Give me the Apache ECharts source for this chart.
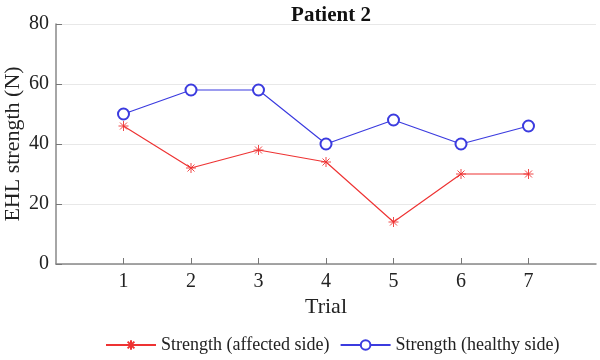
<!DOCTYPE html>
<html>
<head>
    <meta charset="utf-8" />
    <title>Patient 2</title>
    <script src="https://cdn.jsdelivr.net/npm/echarts@6/dist/echarts.min.js"></script>
    <style>
        body { margin: 0; background: #fff; }
        #main { width: 600px; height: 360px; }
    </style>
</head>
<body>
    <div id="main"></div>
    <script type="text/javascript">
        // values
        const trials = [1, 2, 3, 4, 5, 6, 7];
        const affectedSide = [46, 32, 38, 34, 14, 30, 30];
        const healthySide = [50, 58, 58, 40, 48, 40, 46];
        const yTicks = [0, 20, 40, 60, 80];

        const serif = '"Liberation Serif", "DejaVu Serif", serif';
        // asterisk drawn as strokes only
        const asterisk = 'path://M0,-10L0,10M-10,0L10,0M-7,-7L7,7M-7,7L7,-7';

        var chart = echarts.init(document.getElementById('main'));

        var option = {
            animation: false,
            title: {
                text: 'Patient 2',
                left: 326,
                textAlign: 'center',
                top: 0,
                textStyle: { fontFamily: serif, fontSize: 21, fontWeight: 'bold', color: '#111' }
            },
            grid: { left: 56, right: 4, top: 24, bottom: 96, outerBoundsMode: 'none', containLabel: false },
            legend: {
                left: 100,
                top: 331,
                itemWidth: 50,
                itemHeight: 12,
                itemGap: 10,
                textStyle: { fontFamily: serif, fontSize: 18, color: '#222' },
                data: ['Strength (affected side)', 'Strength (healthy side)']
            },
            xAxis: {
                type: 'value',
                min: 0,
                max: 8,
                interval: 1,
                name: 'Trial',
                nameLocation: 'middle',
                nameGap: 32,
                nameMoveOverlap: false,
                nameTextStyle: { fontFamily: serif, fontSize: 22, color: '#222' },
                axisLine: { lineStyle: { color: '#888', width: 1.5 } },
                axisTick: { inside: true, length: 6, customValues: trials, lineStyle: { color: '#777' } },
                axisLabel: { customValues: trials, margin: 8, fontFamily: serif, fontSize: 20, color: '#222' },
                splitLine: { show: false }
            },
            yAxis: {
                type: 'value',
                min: yTicks[0],
                max: yTicks[yTicks.length - 1],
                interval: 20,
                name: 'EHL strength (N)',
                nameLocation: 'middle',
                nameGap: 32,
                nameMoveOverlap: false,
                nameTextStyle: { fontFamily: serif, fontSize: 22, color: '#222' },
                axisLine: { show: true, lineStyle: { color: '#888', width: 1.5 } },
                axisTick: { show: true, inside: true, length: 6, lineStyle: { color: '#777' } },
                axisLabel: { margin: 7, fontFamily: serif, fontSize: 20, color: '#222' },
                splitLine: { lineStyle: { color: '#e8e8e8', width: 1.2 } }
            },
            series: [{
                name: 'Strength (affected side)',
                type: 'line',
                data: trials.map((t, i) => [t, affectedSide[i]]),
                symbol: asterisk,
                symbolSize: 10,
                showAllSymbol: true,
                lineStyle: { color: '#ee3333', width: 1.2 },
                itemStyle: { color: '#ee3333', borderColor: '#ee3333', borderWidth: 0.9 }
            }, {
                name: 'Strength (healthy side)',
                type: 'line',
                data: trials.map((t, i) => [t, healthySide[i]]),
                symbol: 'emptyCircle',
                symbolSize: 11,
                showAllSymbol: true,
                lineStyle: { color: '#3b3bdf', width: 1.2 },
                itemStyle: { color: '#3b3bdf', borderWidth: 1 }
            }]
        };

        chart.setOption(option);
    </script>
</body>
</html>
